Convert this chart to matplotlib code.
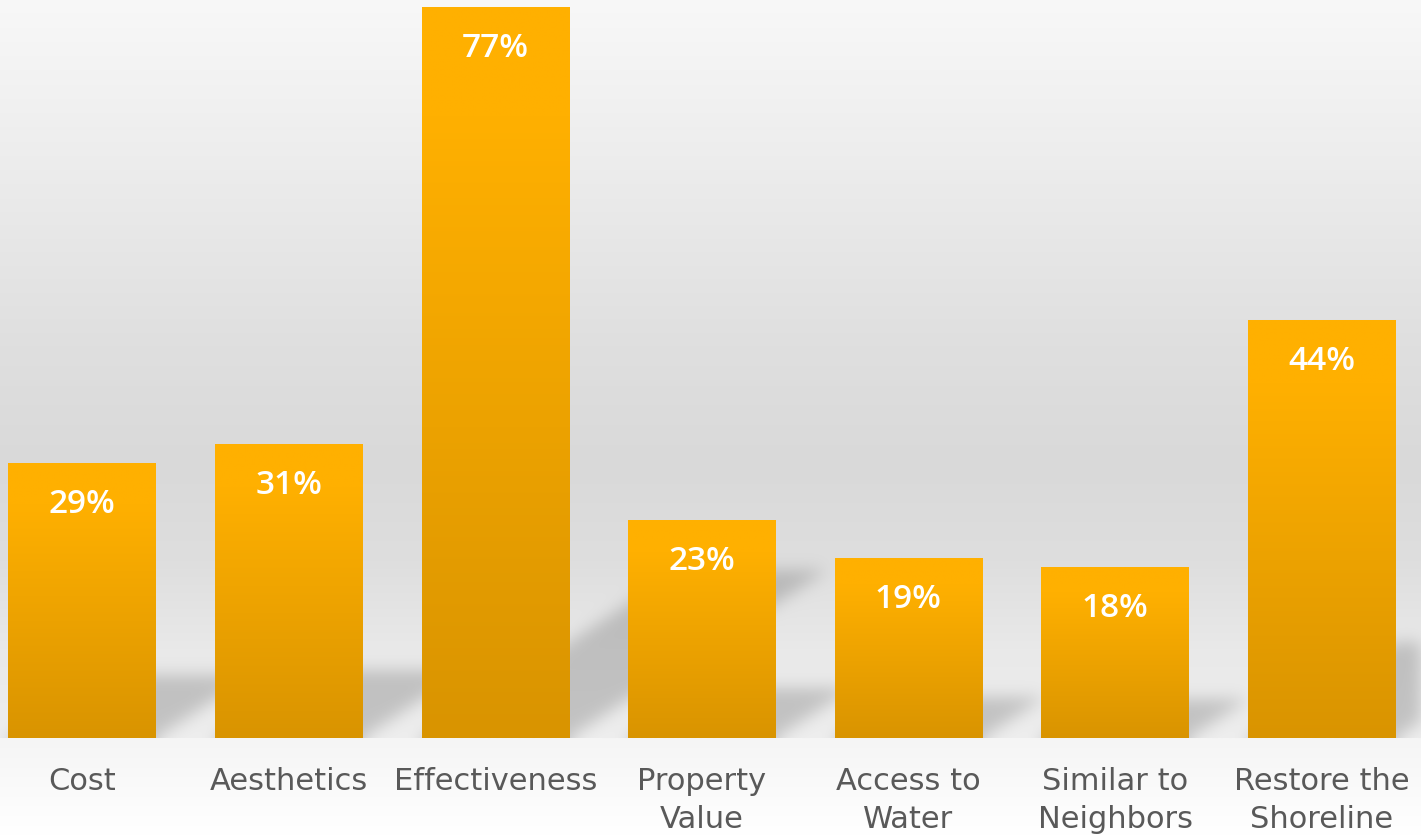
import numpy as np
import matplotlib
matplotlib.use("Agg")
import matplotlib.pyplot as plt

# ---- data ----
categories = ["Cost", "Aesthetics", "Effectiveness", "Property\nValue",
              "Access to\nWater", "Similar to\nNeighbors", "Restore the\nShoreline"]
values = [29, 31, 77, 23, 19, 18, 44]

# ---- style constants ----
FIG_W, FIG_H, DPI = 14.21, 8.37, 100
AX_BOTTOM_PX = 739
BAR_W = 0.712
XLIM = (-0.397, 6.481)
YLIM = (0, 77.84)
SHADOW_H = 0.23      # shadow height as fraction of bar height
SHADOW_SLANT = 0.0707  # x-units per y-unit
TOP_COL = np.array([255, 176, 0]) / 255
BOT_COL = np.array([217, 148, 0]) / 255

fig = plt.figure(figsize=(FIG_W, FIG_H), dpi=DPI)
fig.patch.set_facecolor("white")
Wpx, Hpx = int(round(FIG_W * DPI)), int(round(FIG_H * DPI))
ax_frac = AX_BOTTOM_PX / Hpx

# floor gradient (below axes)
floor = fig.add_axes([0, 0, 1, 1 - ax_frac])
floor.set_axis_off()
fl = np.linspace(245, 255, 60)[:, None, None] * np.ones((1, 2, 3)) / 255
floor.imshow(fl, aspect="auto", extent=[0, 1, 0, 1], interpolation="bilinear")

ax = fig.add_axes([0, 1 - ax_frac, 1, ax_frac])
ax.set_zorder(2)

x = np.arange(len(categories))

# ---- wall background with shadows ----
W, H = Wpx, AX_BOTTOM_PX
p = (np.arange(H) + 0.5) / H  # fraction from top
stops_p = [0.0, 0.27, 0.47, 0.63, 0.76, 0.88, 1.0]
stops_v = [248, 234, 223, 217, 222, 233, 238]
wall = np.interp(p, stops_p, stops_v)[:, None] * np.ones((1, W))

xs = XLIM[0] + (np.arange(W) + 0.5) / W * (XLIM[1] - XLIM[0])
ys = YLIM[1] - p * YLIM[1]
X, Y = np.meshgrid(xs, ys)
mask = np.zeros((H, W))
for xi, v in zip(x, values):
    hh = SHADOW_H * v
    left = xi - BAR_W / 2 + SHADOW_SLANT * Y
    right = xi + BAR_W / 2 + SHADOW_SLANT * Y
    m = (X >= left) & (X <= right) & (Y <= hh)
    mask = np.maximum(mask, m.astype(float))

# gaussian blur (separable), pad bottom with edge values
sig = 8
r = 3 * sig
k = np.exp(-0.5 * (np.arange(-r, r + 1) / sig) ** 2)
k /= k.sum()
pad = np.pad(mask, ((r, r), (r, r)), mode="constant")
pad[H + r:, :] = pad[H + r - 1, :]
tmp = np.zeros_like(pad)
for i, kv in enumerate(k):
    tmp += kv * np.roll(pad, i - r, axis=0)
out = np.zeros_like(pad)
for i, kv in enumerate(k):
    out += kv * np.roll(tmp, i - r, axis=1)
blur = out[r:r + H, r:r + W]
img = wall * (1 - 0.18 * blur)
img = np.clip(img / 255, 0, 1)
ax.imshow(np.dstack([img] * 3), extent=[XLIM[0], XLIM[1], YLIM[0], YLIM[1]],
          aspect="auto", zorder=0, interpolation="bilinear")

# ---- bars with gradient ----
bars = ax.bar(x, values, width=BAR_W, color="none", edgecolor="none", zorder=2)
t = np.linspace(0, 1, 256)
ease = np.clip((t - 0.15) / 0.85, 0, 1)
grad = (TOP_COL[None, :] * (1 - ease[:, None]) + BOT_COL[None, :] * ease[:, None])
grad = grad[:, None, :]
for b in bars:
    x0, w, h = b.get_x(), b.get_width(), b.get_height()
    im = ax.imshow(grad, extent=[x0, x0 + w, 0, h], aspect="auto", zorder=2,
                   interpolation="bilinear")
    im.set_clip_path(b)

for xi, v in zip(x, values):
    ax.annotate(f"{v}%", (xi, v), xytext=(0, -35.3), textcoords="offset points",
                ha="center", va="baseline", color="white", fontsize=24,
                fontweight="semibold", family=["Open Sans", "DejaVu Sans"], zorder=3)

ax.set_xlim(*XLIM)
ax.set_ylim(*YLIM)
ax.set_xticks(x, categories)
ax.set_yticks([])
ax.tick_params(axis="x", length=0, pad=20, labelsize=22, labelcolor="#595959")
for tl in ax.get_xticklabels():
    tl.set_linespacing(1.42)
    tl.set_family("DejaVu Sans")
for s in ax.spines.values():
    s.set_visible(False)

fig.savefig("out.png", dpi=DPI)
